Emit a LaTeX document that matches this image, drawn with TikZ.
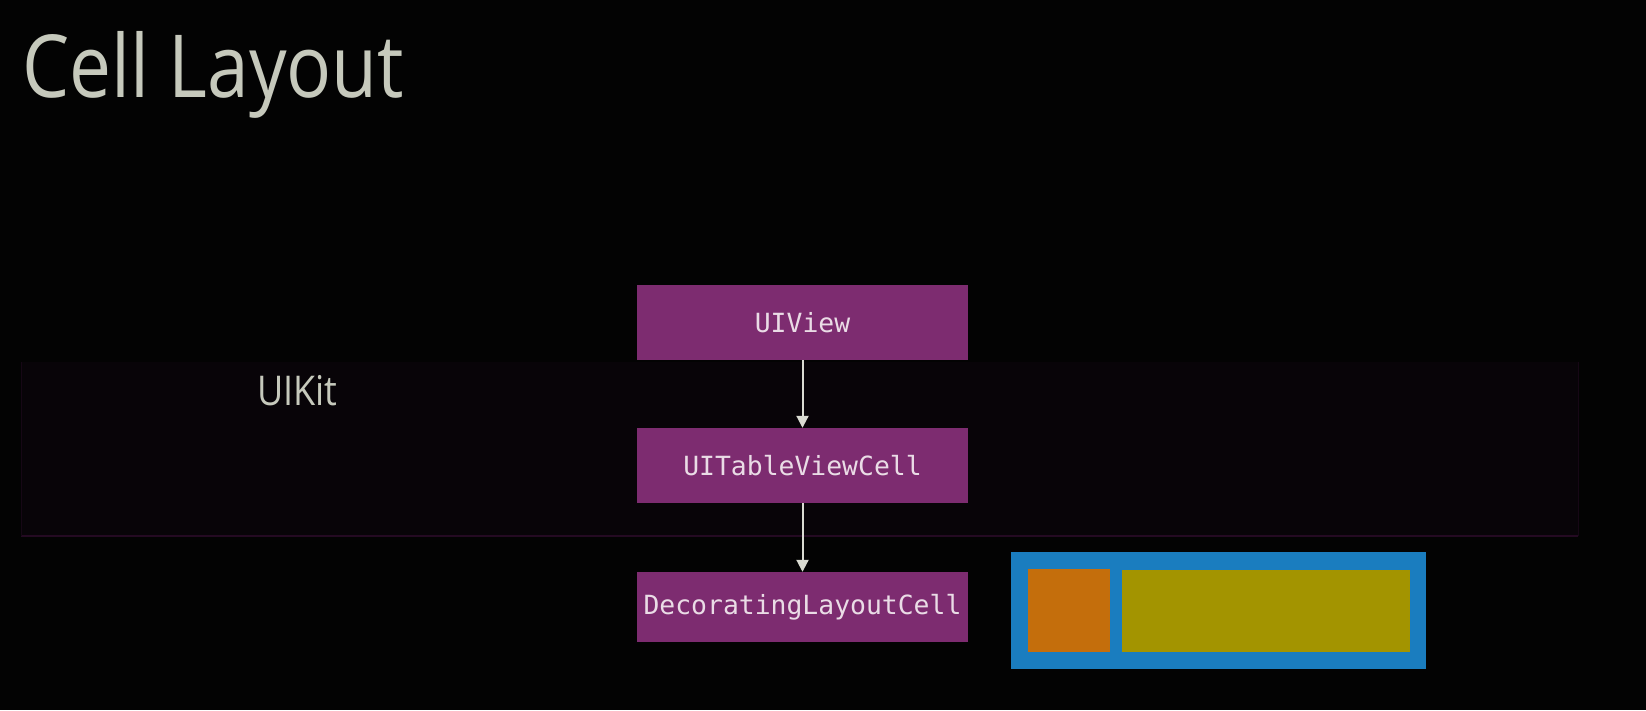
\documentclass[tikz,border=0pt]{standalone}
\usepackage{fontspec}
\setmainfont{Open Sans}
\newfontfamily\codefont{DejaVu Sans Mono}
\usetikzlibrary{arrows.meta}
\definecolor{bg}{HTML}{030303}
\definecolor{band}{HTML}{080408}
\definecolor{bandline}{HTML}{240A22}
\definecolor{boxfill}{HTML}{7D2C70}
\definecolor{boxtext}{HTML}{EADCE6}
\definecolor{titlegrey}{HTML}{C6C9BC}
\definecolor{arrowgrey}{HTML}{DADBD2}
\definecolor{cellblue}{HTML}{1A7DBF}
\definecolor{cellorange}{HTML}{C46E0C}
\definecolor{cellyellow}{HTML}{A39400}
\tikzset{
  classbox/.style={fill=boxfill, text=boxtext, minimum width=331pt, inner sep=0pt,
    font=\codefont\fontsize{26.4}{30}\selectfont},
  inherit/.style={draw=arrowgrey, line width=2pt, -{Triangle[length=12pt,width=12pt]}},
}
\begin{document}
\begin{tikzpicture}[x=1pt,y=-1pt]
\fill[bg] (0,0) rectangle (1646,710);
\useasboundingbox (0,0) rectangle (1646,710);
% UIKit band
\fill[band] (21,362) rectangle (1578,536);
\draw[bandline, line width=2pt] (21,536) -- (1578,536);
\draw[bandline!50!band, line width=1pt] (21,362) -- (21,536) (1578,362) -- (1578,536);
% title
\node[anchor=base west, inner sep=0pt, text=titlegrey, xscale=0.86, font=\fontsize{87}{100}\selectfont] (title) at (22,97) {Cell Layout};
\node[anchor=base west, inner sep=0pt, text=titlegrey, xscale=0.88, font=\fontsize{41}{50}\selectfont] (uikit) at (257,405) {UIKit};
% class boxes
\node[classbox, minimum height=75pt] (uiview) at (802.5,322.5) {UIView};
\node[classbox, minimum height=75pt] (cell) at (802.5,465.5) {UITableViewCell};
\node[classbox, minimum height=70pt] (deco) at (802.5,607) {DecoratingLayoutCell};
\draw[inherit] (uiview) -- (cell);
\draw[inherit] (cell) -- (deco);
% cell layout sketch
\node[fill=cellblue, minimum width=415pt, minimum height=117pt, inner sep=0pt] (outer) at (1218,610.5) {};
\node[fill=cellorange, minimum width=82pt, minimum height=83pt, inner sep=0pt] (accessory) at (1069,610.5) {};
\node[fill=cellyellow, minimum width=288pt, minimum height=82pt, inner sep=0pt] (content) at (1266,611) {};
\end{tikzpicture}
\end{document}
